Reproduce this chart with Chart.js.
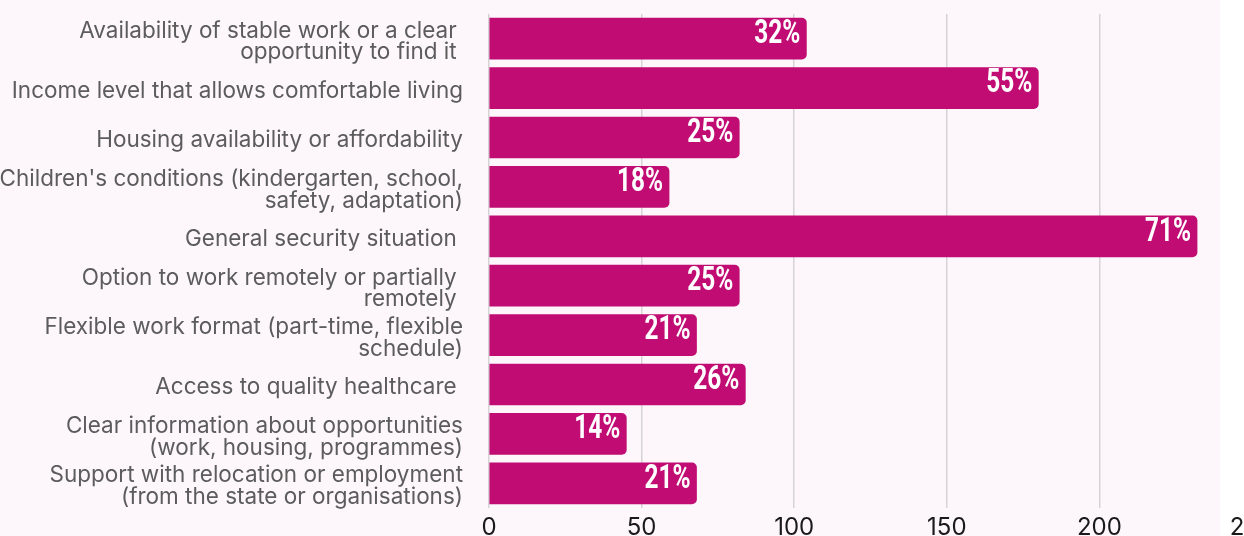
<!DOCTYPE html>
<html>
<head>
<meta charset="utf-8">
<script src="https://cdn.jsdelivr.net/npm/chart.js@4.4.1/dist/chart.umd.min.js"></script>
<style>
  html, body { margin: 0; padding: 0; background: #ffffff; overflow: hidden; }
  #wrap { position: relative; width: 1252px; height: 536px; }
</style>
</head>
<body>
<div id="wrap"><canvas id="factors" width="1252" height="536"></canvas></div>
<script>
// survey answers: factors that would help people decide to return
const categories = [
    ['Availability of stable work or a clear ', 'opportunity to find it '],
    'Income level that allows comfortable living',
    'Housing availability or affordability',
    ["Children's conditions (kindergarten, school,", 'safety, adaptation)'],
    'General security situation ',
    ['Option to work remotely or partially ', 'remotely '],
    ['Flexible work format (part-time, flexible', 'schedule)'],
    'Access to quality healthcare ',
    ['Clear information about opportunities', '(work, housing, programmes)'],
    ['Support with relocation or employment', '(from the state or organisations)']
];
const responses = [104, 180, 82, 59, 232, 82, 68, 84, 45, 68];
const respondents = 327;
const xTicks = [0, 50, 100, 150, 200, 250];

const BAR_COLOR = '#c00c73';
const PANEL_BG = '#fdf7fb';

// light panel behind the plot, stops a bit short of the right edge
const panelBackground = {
    id: 'panelBackground',
    beforeDraw(chart) {
        const ctx = chart.ctx;
        ctx.save();
        ctx.fillStyle = PANEL_BG;
        ctx.fillRect(0, 0, 1220, chart.height);
        ctx.restore();
    }
};

// percentage written inside the end of each bar, in a squeezed bold face
const shareLabels = {
    id: 'shareLabels',
    afterDatasetsDraw(chart) {
        const ctx = chart.ctx;
        const meta = chart.getDatasetMeta(0);
        meta.data.forEach((bar, i) => {
            const pct = Math.round(responses[i] / respondents * 100);
            ctx.save();
            ctx.translate(bar.x - 6, bar.y - 4);
            ctx.scale(0.74, 1);
            ctx.fillStyle = '#ffffff';
            ctx.font = 'bold 33px Roboto, sans-serif';
            ctx.textAlign = 'right';
            ctx.textBaseline = 'middle';
            ctx.fillText(pct + '%', 0, 0);
            ctx.restore();
        });
    }
};

new Chart(document.getElementById('factors'), {
    type: 'bar',
    data: {
        labels: categories,
        datasets: [{
            data: responses,
            backgroundColor: BAR_COLOR,
            borderRadius: 5,
            borderSkipped: 'start',
            barThickness: 41
        }]
    },
    options: {
        indexAxis: 'y',
        responsive: false,
        animation: false,
        layout: { padding: { top: 14, bottom: 0, left: 0, right: 0 } },
        plugins: {
            legend: { display: false },
            tooltip: { enabled: false }
        },
        scales: {
            x: {
                min: 0,
                max: 250,
                afterBuildTicks: scale => { scale.ticks = xTicks.map(v => ({ value: v })); },
                grid: { color: '#d6d3d6', lineWidth: 1.5, drawTicks: false },
                border: { display: false },
                ticks: {
                    color: '#1a1a1a',
                    padding: 5,
                    font: { family: 'Inter', size: 24 }
                },
                afterFit: scale => {
                    scale.height = 28;
                    scale.paddingLeft = 0;
                    scale.paddingRight = 0;
                }
            },
            y: {
                grid: { display: false, drawTicks: true, tickLength: 26 },
                border: { display: false },
                ticks: {
                    color: '#5c5c5c',
                    padding: 0,
                    labelOffset: 3,
                    autoSkip: false,
                    font: { family: 'Inter', size: 22.5, lineHeight: 0.97 }
                },
                afterFit: scale => {
                    scale.width = 489;
                    scale.paddingTop = 0;
                    scale.paddingBottom = 0;
                }
            }
        }
    },
    plugins: [panelBackground, shareLabels]
});
</script>
</body>
</html>
